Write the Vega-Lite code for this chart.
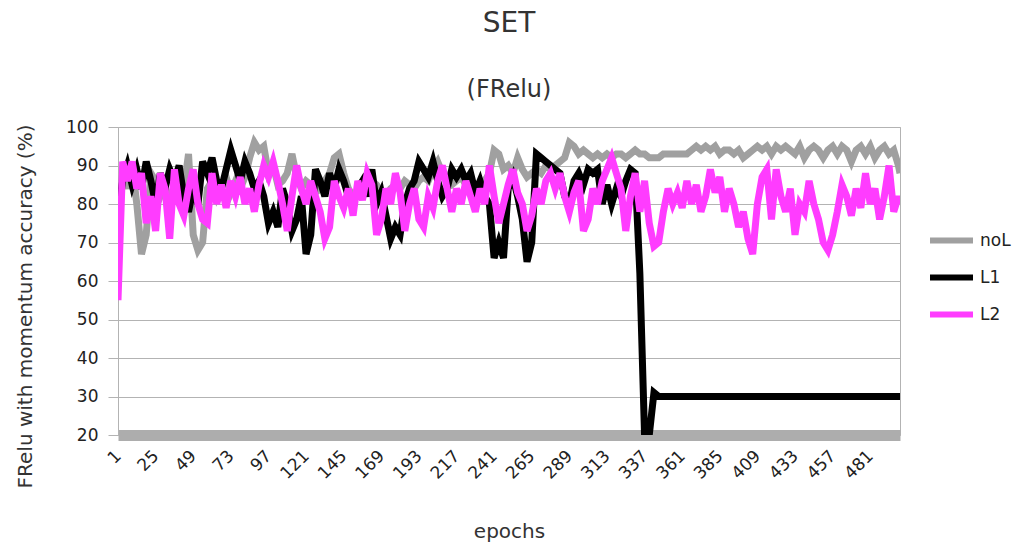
{
  "$schema": "https://vega.github.io/schema/vega-lite/v6.json",
  "autosize": "none",
  "width": 782,
  "height": 308,
  "padding": {"left": 118, "top": 127, "right": 128, "bottom": 113},
  "background": "white",
  "config": {
    "font": "DejaVu Sans",
    "view": {"stroke": "#b3b3b3", "strokeWidth": 1}
  },
  "title": {
    "text": "SET",
    "subtitle": "(FRelu)",
    "anchor": "middle",
    "fontSize": 28,
    "fontWeight": "normal",
    "subtitleFontSize": 24,
    "color": "#333333",
    "subtitleColor": "#333333",
    "subtitlePadding": 40,
    "offset": 16
  },
  "data": {
    "values": [
      {"e":1,"noL":78,"L1":78,"L2":55},{"e":4,"noL":88,"L1":86,"L2":91},{"e":7,"noL":84,"L1":90,"L2":86},{"e":10,"noL":90,"L1":85,"L2":91},
      {"e":13,"noL":80,"L1":89,"L2":84},{"e":16,"noL":67,"L1":84,"L2":88},{"e":19,"noL":72,"L1":91,"L2":75},{"e":22,"noL":88,"L1":86,"L2":82},
      {"e":25,"noL":86,"L1":80,"L2":73},{"e":28,"noL":82,"L1":88,"L2":88},{"e":31,"noL":85,"L1":84,"L2":84},{"e":34,"noL":80,"L1":89,"L2":71},
      {"e":37,"noL":83,"L1":86,"L2":89},{"e":40,"noL":86,"L1":90,"L2":80},{"e":43,"noL":84,"L1":82,"L2":77},{"e":46,"noL":93,"L1":78,"L2":84},
      {"e":49,"noL":72,"L1":84,"L2":89},{"e":52,"noL":68,"L1":80,"L2":80},{"e":55,"noL":70,"L1":91,"L2":76},{"e":58,"noL":84,"L1":88,"L2":75},
      {"e":61,"noL":86,"L1":92,"L2":88},{"e":64,"noL":82,"L1":86,"L2":80},{"e":67,"noL":85,"L1":84,"L2":85},{"e":70,"noL":87,"L1":89,"L2":79},
      {"e":73,"noL":83,"L1":94,"L2":86},{"e":76,"noL":86,"L1":90,"L2":82},{"e":79,"noL":84,"L1":86,"L2":87},{"e":82,"noL":87,"L1":91,"L2":80},
      {"e":85,"noL":92,"L1":88,"L2":84},{"e":88,"noL":96,"L1":84,"L2":78},{"e":91,"noL":94,"L1":86,"L2":85},{"e":94,"noL":95,"L1":82,"L2":90},
      {"e":97,"noL":88,"L1":75,"L2":87},{"e":100,"noL":90,"L1":78,"L2":91},{"e":103,"noL":85,"L1":74,"L2":86},{"e":106,"noL":86,"L1":84,"L2":80},
      {"e":109,"noL":88,"L1":80,"L2":73},{"e":112,"noL":93,"L1":73,"L2":82},{"e":115,"noL":87,"L1":76,"L2":90},{"e":118,"noL":84,"L1":82,"L2":84},
      {"e":121,"noL":86,"L1":67,"L2":80},{"e":124,"noL":85,"L1":72,"L2":86},{"e":127,"noL":83,"L1":89,"L2":82},{"e":130,"noL":84,"L1":86,"L2":78},
      {"e":133,"noL":86,"L1":82,"L2":71},{"e":136,"noL":88,"L1":88,"L2":74},{"e":139,"noL":92,"L1":84,"L2":86},{"e":142,"noL":93,"L1":89,"L2":82},
      {"e":145,"noL":88,"L1":86,"L2":79},{"e":148,"noL":84,"L1":82,"L2":84},{"e":151,"noL":82,"L1":80,"L2":77},{"e":154,"noL":83,"L1":84,"L2":86},
      {"e":157,"noL":85,"L1":86,"L2":81},{"e":160,"noL":84,"L1":82,"L2":88},{"e":163,"noL":86,"L1":89,"L2":85},{"e":166,"noL":85,"L1":80,"L2":72},
      {"e":169,"noL":83,"L1":83,"L2":76},{"e":172,"noL":82,"L1":77,"L2":84},{"e":175,"noL":84,"L1":71,"L2":80},{"e":178,"noL":85,"L1":74,"L2":88},
      {"e":181,"noL":84,"L1":72,"L2":83},{"e":184,"noL":86,"L1":80,"L2":73},{"e":187,"noL":85,"L1":84,"L2":80},{"e":190,"noL":84,"L1":86,"L2":84},
      {"e":193,"noL":86,"L1":91,"L2":76},{"e":196,"noL":87,"L1":89,"L2":74},{"e":199,"noL":86,"L1":87,"L2":82},{"e":202,"noL":89,"L1":91,"L2":79},
      {"e":205,"noL":91,"L1":86,"L2":86},{"e":208,"noL":88,"L1":82,"L2":90},{"e":211,"noL":86,"L1":84,"L2":84},{"e":214,"noL":85,"L1":89,"L2":78},
      {"e":217,"noL":86,"L1":87,"L2":84},{"e":220,"noL":87,"L1":89,"L2":80},{"e":223,"noL":85,"L1":86,"L2":86},{"e":226,"noL":86,"L1":88,"L2":82},
      {"e":229,"noL":85,"L1":83,"L2":78},{"e":232,"noL":84,"L1":86,"L2":84},{"e":235,"noL":86,"L1":82,"L2":80},{"e":238,"noL":88,"L1":80,"L2":90},
      {"e":241,"noL":94,"L1":66,"L2":82},{"e":244,"noL":93,"L1":70,"L2":75},{"e":247,"noL":89,"L1":66,"L2":80},{"e":250,"noL":90,"L1":84,"L2":85},
      {"e":253,"noL":88,"L1":87,"L2":89},{"e":256,"noL":92,"L1":82,"L2":83},{"e":259,"noL":89,"L1":76,"L2":80},{"e":262,"noL":87,"L1":65,"L2":73},
      {"e":265,"noL":88,"L1":70,"L2":77},{"e":268,"noL":89,"L1":93,"L2":84},{"e":271,"noL":88,"L1":92,"L2":80},{"e":274,"noL":90,"L1":91,"L2":86},
      {"e":277,"noL":89,"L1":90,"L2":88},{"e":280,"noL":90,"L1":89,"L2":84},{"e":283,"noL":91,"L1":88,"L2":88},{"e":286,"noL":92,"L1":82,"L2":82},
      {"e":289,"noL":96,"L1":80,"L2":78},{"e":292,"noL":95,"L1":86,"L2":83},{"e":295,"noL":93,"L1":88,"L2":86},{"e":298,"noL":94,"L1":85,"L2":73},
      {"e":301,"noL":93,"L1":89,"L2":76},{"e":304,"noL":92,"L1":88,"L2":84},{"e":307,"noL":93,"L1":89,"L2":80},{"e":310,"noL":92,"L1":80,"L2":86},
      {"e":313,"noL":93,"L1":85,"L2":89},{"e":316,"noL":92,"L1":80,"L2":92},{"e":319,"noL":93,"L1":84,"L2":88},{"e":322,"noL":93,"L1":82,"L2":84},
      {"e":325,"noL":92,"L1":86,"L2":73},{"e":328,"noL":93,"L1":89,"L2":82},{"e":331,"noL":94,"L1":88,"L2":88},{"e":334,"noL":93,"L1":62,"L2":78},
      {"e":337,"noL":93,"L1":20,"L2":86},{"e":340,"noL":92,"L1":20,"L2":75},{"e":343,"noL":92,"L1":31,"L2":69},{"e":346,"noL":92,"L1":30,"L2":70},
      {"e":349,"noL":93,"L1":30,"L2":78},{"e":352,"noL":93,"L1":30,"L2":84},{"e":355,"noL":93,"L1":30,"L2":80},{"e":358,"noL":93,"L1":30,"L2":83},
      {"e":361,"noL":93,"L1":30,"L2":79},{"e":364,"noL":93,"L1":30,"L2":86},{"e":367,"noL":94,"L1":30,"L2":80},{"e":370,"noL":95,"L1":30,"L2":85},
      {"e":373,"noL":94,"L1":30,"L2":78},{"e":376,"noL":95,"L1":30,"L2":82},{"e":379,"noL":94,"L1":30,"L2":89},{"e":382,"noL":95,"L1":30,"L2":83},
      {"e":385,"noL":93,"L1":30,"L2":87},{"e":388,"noL":94,"L1":30,"L2":78},{"e":391,"noL":94,"L1":30,"L2":84},{"e":394,"noL":93,"L1":30,"L2":80},
      {"e":397,"noL":94,"L1":30,"L2":74},{"e":400,"noL":92,"L1":30,"L2":78},{"e":403,"noL":93,"L1":30,"L2":71},{"e":406,"noL":94,"L1":30,"L2":67},
      {"e":409,"noL":95,"L1":30,"L2":80},{"e":412,"noL":94,"L1":30,"L2":87},{"e":415,"noL":95,"L1":30,"L2":89},{"e":418,"noL":93,"L1":30,"L2":76},
      {"e":421,"noL":95,"L1":30,"L2":89},{"e":424,"noL":94,"L1":30,"L2":82},{"e":427,"noL":95,"L1":30,"L2":78},{"e":430,"noL":94,"L1":30,"L2":84},
      {"e":433,"noL":93,"L1":30,"L2":72},{"e":436,"noL":95,"L1":30,"L2":80},{"e":439,"noL":92,"L1":30,"L2":78},{"e":442,"noL":94,"L1":30,"L2":86},
      {"e":445,"noL":95,"L1":30,"L2":80},{"e":448,"noL":94,"L1":30,"L2":76},{"e":451,"noL":92,"L1":30,"L2":70},{"e":454,"noL":94,"L1":30,"L2":68},
      {"e":457,"noL":95,"L1":30,"L2":72},{"e":460,"noL":93,"L1":30,"L2":78},{"e":463,"noL":95,"L1":30,"L2":85},{"e":466,"noL":94,"L1":30,"L2":82},
      {"e":469,"noL":91,"L1":30,"L2":77},{"e":472,"noL":94,"L1":30,"L2":84},{"e":475,"noL":95,"L1":30,"L2":79},{"e":478,"noL":93,"L1":30,"L2":88},
      {"e":481,"noL":95,"L1":30,"L2":80},{"e":484,"noL":92,"L1":30,"L2":84},{"e":487,"noL":94,"L1":30,"L2":76},{"e":490,"noL":95,"L1":30,"L2":82},
      {"e":493,"noL":93,"L1":30,"L2":90},{"e":496,"noL":94,"L1":30,"L2":78},{"e":499,"noL":90,"L1":30,"L2":82},{"e":500,"noL":88,"L1":30,"L2":80}
    ]
  },
  "transform": [{"fold": ["noL", "L1", "L2"], "as": ["series", "value"]}],
  "mark": {"type": "line", "strokeWidth": 7, "strokeJoin": "miter", "clip": true},
  "encoding": {
    "x": {
      "field": "e",
      "type": "quantitative",
      "scale": {"domain": [1, 500], "nice": false, "zero": false},
      "axis": {
        "title": "epochs",
        "titleFontSize": 20,
        "titleFontWeight": "normal",
        "titleColor": "#333333",
        "titleY": 102,
        "titleBaseline": "alphabetic",
        "values": [1,25,49,73,97,121,145,169,193,217,241,265,289,313,337,361,385,409,433,457,481],
        "labelAngle": -45,
        "labelAlign": "right",
        "labelBaseline": "middle",
        "labelPadding": 18,
        "labelFontSize": 17,
        "labelColor": "#222222",
        "labelOverlap": false,
        "ticks": false,
        "grid": false,
        "domainColor": "#adadad",
        "domainWidth": 11
      }
    },
    "y": {
      "field": "value",
      "type": "quantitative",
      "scale": {"domain": [20, 100], "nice": false, "zero": false},
      "axis": {
        "title": "FRelu with momentum accuracy (%)",
        "titleFontSize": 20,
        "titleFontWeight": "normal",
        "titleColor": "#333333",
        "titleX": -93,
        "titleY": 179,
        "titleAngle": -90,
        "titleAlign": "center",
        "titleBaseline": "middle",
        "values": [20,30,40,50,60,70,80,90,100],
        "labelFontSize": 17,
        "labelColor": "#222222",
        "labelPadding": 10,
        "tickSize": 10,
        "tickColor": "#b3b3b3",
        "domainColor": "#b3b3b3",
        "gridColor": "#b3b3b3",
        "gridWidth": 1
      }
    },
    "color": {
      "field": "series",
      "type": "nominal",
      "sort": ["noL", "L1", "L2"],
      "scale": {"domain": ["noL", "L1", "L2"], "range": ["#a0a0a0", "#000000", "#ff3cff"]},
      "legend": {
        "title": null,
        "orient": "none",
        "legendX": 809,
        "legendY": 89,
        "symbolType": "stroke",
        "symbolSize": 1849,
        "symbolStrokeWidth": 6,
        "labelFontSize": 17,
        "labelColor": "#222222",
        "labelOffset": 4,
        "rowPadding": 0
      }
    }
  }
}
